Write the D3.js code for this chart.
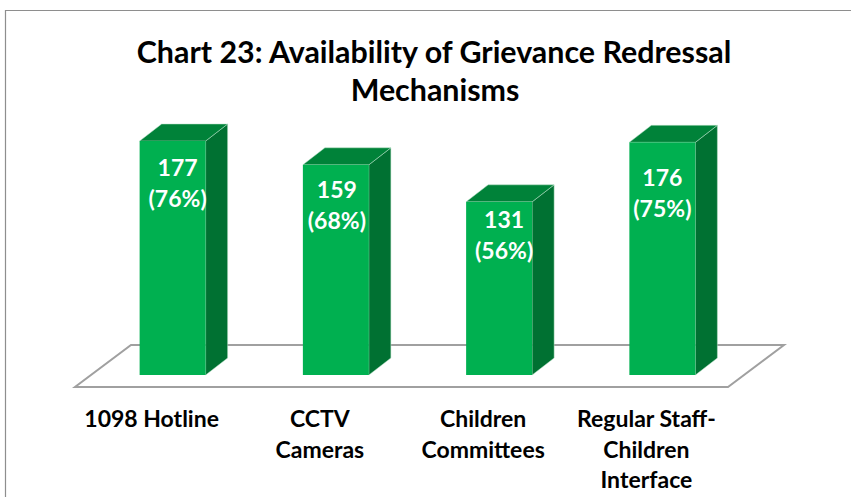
<!DOCTYPE html>
<html>
<head>
<meta charset="utf-8">
<script src="https://cdn.jsdelivr.net/npm/d3@7"></script>
<style>
    html, body { margin: 0; padding: 0; background: #fff; overflow: hidden; }
    text { font-family: Lato, sans-serif; font-weight: 700; }
</style>
</head>
<body>
<div id="chart"></div>
<script>
const categories = ['1098 Hotline', 'CCTV Cameras', 'Children Committees', 'Regular Staff-Children Interface'];
const categoryLines = [['1098 Hotline'], ['CCTV', 'Cameras'], ['Children', 'Committees'], ['Regular Staff-', 'Children', 'Interface']];
const counts = [177, 159, 131, 176];
const percents = [76, 68, 56, 75];
const titleLines = ['Chart 23: Availability of Grievance Redressal', 'Mechanisms'];

// hand placed labels in the original, offsets from the default spot
const labelNudgeX = [5, 1, 5, 0];
const labelTopGap = [28, 26, 19, 37];
const tickNudgeX = [-5, 0, 0, 0];

(() => {
    const width = 851,
          height = 497;

    const svg = d3.select('#chart')
        .append('svg')
        .attr('width', width)
        .attr('height', height)
        .style('display', 'block');

    // chart frame, bottom and right run off the picture
    svg.append('path')
        .attr('d', 'M5.5,497V10.5H851')
        .attr('fill', 'none')
        .attr('stroke', '#8e8e8e')
        .attr('stroke-width', 1.2);

    svg.selectAll('.title')
        .data(titleLines)
        .enter().append('text')
        .attr('class', 'title')
        .attr('x', (d, i) => i ? 435 : 434)
        .attr('y', (d, i) => 63 + i * 38)
        .attr('text-anchor', 'middle')
        .attr('font-size', 30.4)
        .attr('fill', '#000')
        .text(d => d);

    const floorLeft = 75,
          floorRight = 728,
          floorFront = 387,
          floorDx = 56,
          floorDy = 42,
          barBase = 375,
          barOffset = 16,
          barWidth = 66,
          depthX = 22,
          depthY = 17;

    const x = d3.scaleBand()
        .domain(categories)
        .range([floorLeft, floorRight]);

    const y = d3.scaleLinear()
        .domain([0, 177])
        .range([barBase, 141]);

    const floorPath = d3.path();
    floorPath.moveTo(floorLeft, floorFront);
    floorPath.lineTo(floorRight, floorFront);
    floorPath.lineTo(floorRight + floorDx, floorFront - floorDy);
    floorPath.lineTo(floorLeft + floorDx, floorFront - floorDy);
    floorPath.closePath();

    svg.append('path')
        .attr('d', floorPath.toString())
        .attr('fill', '#fff')
        .attr('stroke', '#a0a0a0')
        .attr('stroke-width', 2);

    const barLeft = (d, i) => x(categories[i]) + x.bandwidth() / 2 + barOffset - barWidth / 2;

    const bars = svg.selectAll('.bar')
        .data(counts)
        .enter().append('g')
        .attr('class', 'bar');

    bars.append('path')
        .attr('d', (d, i) => {
            const l = barLeft(d, i) + barWidth;
            return `M${l},${y(d)}l${depthX},${-depthY}V${barBase - depthY}L${l},${barBase}Z`;
        })
        .attr('fill', '#007132')
        .attr('stroke', '#b9e3c8')
        .attr('stroke-width', 0.5);

    bars.append('path')
        .attr('d', (d, i) => {
            const l = barLeft(d, i);
            return `M${l},${y(d)}l${depthX},${-depthY}h${barWidth}l${-depthX},${depthY}Z`;
        })
        .attr('fill', '#008239')
        .attr('stroke', '#b9e3c8')
        .attr('stroke-width', 0.5);

    bars.append('rect')
        .attr('x', barLeft)
        .attr('y', d => y(d))
        .attr('width', barWidth)
        .attr('height', d => barBase - y(d))
        .attr('fill', '#00b050');

    const labels = bars.append('text')
        .attr('text-anchor', 'middle')
        .attr('font-size', 23)
        .attr('fill', '#fff');

    labels.append('tspan')
        .attr('x', (d, i) => barLeft(d, i) + barWidth / 2 + labelNudgeX[i])
        .attr('y', (d, i) => y(d) + labelTopGap[i] + 7)
        .text(d => d);

    labels.append('tspan')
        .attr('x', (d, i) => barLeft(d, i) + barWidth / 2 + labelNudgeX[i])
        .attr('y', (d, i) => y(d) + labelTopGap[i] + 38)
        .text((d, i) => `(${percents[i]}%)`);

    const axis = svg.append('g')
        .attr('transform', `translate(0,${floorFront})`)
        .call(d3.axisBottom(x).tickSize(0));

    axis.select('.domain').remove();

    axis.selectAll('.tick text')
        .attr('font-size', 23)
        .attr('font-family', 'Lato, sans-serif')
        .attr('fill', '#000')
        .attr('y', 0)
        .attr('dy', null)
        .text(null)
        .each(function (d, i) {
            d3.select(this).selectAll('tspan')
                .data(categoryLines[i])
                .enter().append('tspan')
                .attr('x', tickNudgeX[i])
                .attr('y', (t, j) => 40 + j * 30.5)
                .text(t => t);
        });
})();
</script>
</body>
</html>
